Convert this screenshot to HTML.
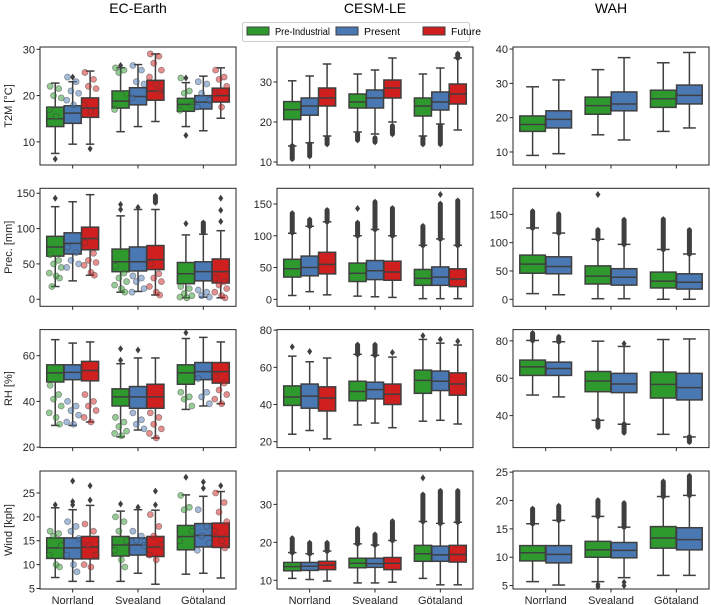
<!DOCTYPE html>
<html><head><meta charset="utf-8"><style>
body{margin:0;background:#fff;}
svg{display:block;font-family:"Liberation Sans","DejaVu Sans",sans-serif;}
</style></head><body>
<svg id="chart" width="711" height="605" viewBox="0 0 711 605" xmlns="http://www.w3.org/2000/svg">
<text x="138" y="13" font-size="14" text-anchor="middle">EC-Earth</text>
<text x="375" y="13" font-size="14" text-anchor="middle">CESM-LE</text>
<text x="611" y="13" font-size="14" text-anchor="middle">WAH</text>
<g>
<rect x="242.5" y="22.5" width="227" height="19" rx="2" fill="#fff" stroke="#ccc"/>
<g><rect x="247" y="27" width="22" height="8" fill="#2e9a2e" stroke="#3f3f3f"/><text x="275" y="35" font-size="10.5" textLength="55" lengthAdjust="spacingAndGlyphs">Pre-Industrial</text></g>
<g><rect x="336" y="27" width="22" height="8" fill="#4a78b3" stroke="#3f3f3f"/><text x="364" y="35" font-size="10.5" textLength="36" lengthAdjust="spacingAndGlyphs">Present</text></g>
<g><rect x="423" y="27" width="22" height="8" fill="#cf1f1f" stroke="#3f3f3f"/><text x="451" y="35" font-size="10.5" textLength="30" lengthAdjust="spacingAndGlyphs">Future</text></g>
</g>
</svg>
<script>
const categories = ["Norrland","Svealand","Götaland"];
const hueColors = ["#2e9a2e","#4a78b3","#cf1f1f"];
const rowLabels = ["T2M [°C]","Prec. [mm]","RH [%]","Wind [kph]"];
const colNames = ["ec-earth","cesm-le","wah"];
const rowNames = ["t2m","prec","rh","wind"];
const yDomains = [
 [[5,30.5],[9.25,38.75],[6.2,40.6]],
 [[-10,157],[-11,174.7],[-12.4,196]],
 [[19.8,71.4],[16.8,80.3],[22.9,86]],
 [[4.9,29.6],[7.7,38.8],[4.4,25.2]]
];
const yTicks = [
 [[10,20,30],[10,20,30],[10,20,30,40]],
 [[0,50,100,150],[0,50,100,150],[0,50,100,150]],
 [[20,40,60],[20,40,60,80],[40,60,80]],
 [[5,10,15,20,25],[10,20,30],[5,10,15,20,25]]
];
// each box: [whislo, q1, median, q3, whishi], sparse fliers, dense flier range, strip points
const t2m_ec = [
 [{s:[7.5,13.3,15,17.5,22.7],f:[6.3],r:null,p:[22,21.5,20,19.5,17,15.5]},{s:[9.5,14,16.2,17.8,23],f:[24],r:null,p:[24,23,21,20.5,19,18]},{s:[9.5,15.3,17.3,19.5,25.3],f:[8.5],r:null,p:[25,23.5,22,21.5,18,16.5]}],
 [{s:[12.2,17.3,18.8,21,26],f:[26.5],r:null,p:[26,25.5,25,20.5,17]},{s:[13.3,18,19.8,21.7,26.7],f:[],r:null,p:[26.5,25.5,23,22.5,19.5]},{s:[14.4,19,21,23.3,29],f:[],r:null,p:[29,28.5,27,25.5,24,22.5,21]}],
 [{s:[13.3,16.6,18.1,19.4,22.8],f:[11.4,23.8],r:null,p:[23.8,21,20.5,18,16.8]},{s:[12.4,17.1,18.6,20,24.2],f:[],r:null,p:[23,22.5,20.5,19,17.5]},{s:[15.1,18.6,20,21.6,26],f:[],r:null,p:[25.5,24,23.5,22,20.5,17.5]}]
];
const t2m_cesm = [
 [{s:[14,20.6,23.1,25.1,30.3],f:[],r:[10.8,14]},{s:[14.8,21.7,24,26,31.5],f:[],r:[11.5,14.5]},{s:[16.5,24,26,28.5,34.5],f:[],r:[14.5,16]}],
 [{s:[17.5,23.5,25,27,32],f:[],r:[15.5,17]},{s:[17,23.5,26,28,33],f:[],r:[15,16]},{s:[20,26,28.5,30.5,36],f:[],r:[17,19]}],
 [{s:[16.5,21.5,24,26,32],f:[],r:[14.5,16]},{s:[19.5,23,25,27.5,33.5],f:[],r:[14.5,19]},{s:[18,24.5,27,29.5,36],f:[],r:[36,37]}]
];
const t2m_wah = [
 [{s:[9,16,18,20.5,29],f:[],r:null},{s:[9.5,17,19.5,22,31],f:[],r:null}],
 [{s:[15,21,23.5,26,34],f:[],r:null},{s:[13.5,22,24,27.5,37.5],f:[],r:null}],
 [{s:[16,23,25.5,28,36],f:[],r:null},{s:[17,24,26.5,29.5,39],f:[],r:null}]
];
const prec_ec = [
 [{s:[18,61,74,89,131],f:[143],r:null,p:[63,55,50,45,37,33,30,18]},{s:[26,64,79,94,138],f:[],r:null,p:[74,66,55,50,45]},{s:[34,70,86,102,148],f:[],r:null,p:[80,65,55,52,48,38,34]}],
 [{s:[10,39,53,71,118],f:[127,134],r:null,p:[47,37,30,25,20,15,10]},{s:[11,40,53,74,127],f:[130],r:null,p:[33,30,25,15,10]},{s:[6,42,56,76,127],f:[],r:[137,146],p:[50,36,30,25,18,10,6]}],
 [{s:[2,22,36,52,91],f:[107],r:null,p:[18,15,8,5,3,2]},{s:[3,26,39,53,92],f:[],r:[95,108],p:[13,10,5,3]},{s:[2,23,39,57,97],f:[110,126,143],r:null,p:[30,25,20,15,10,5,2]}]
];
const prec_cesm = [
 [{s:[6,35,48,63,104],f:[],r:[105,135]},{s:[12,37,50,68,115],f:[],r:[115,125]},{s:[7,40,55,74,122],f:[],r:[122,140]}],
 [{s:[5,28,41,57,100],f:[143],r:[100,120]},{s:[4,31,45,61,110],f:[],r:[110,153]},{s:[3,30,43,60,100],f:[],r:[100,143]}],
 [{s:[1,22,33,47,85],f:[],r:[85,115]},{s:[1,22,35,51,95],f:[165],r:[95,150]},{s:[1,20,32,48,85],f:[],r:[85,155]}]
];
const prec_wah = [
 [{s:[10,46,62,78,126],f:[],r:[126,155]},{s:[8,45,58,75,117],f:[],r:[117,150]}],
 [{s:[1,27,41,59,106],f:[185],r:[106,122]},{s:[1,25,39,54,97],f:[],r:[97,140]}],
 [{s:[0,20,32,48,88],f:[],r:[88,141]},{s:[0,18,30,45,80],f:[],r:[80,122]}]
];
const rh_ec = [
 [{s:[29.5,48.5,52.5,56,67],f:[],r:null,p:[47,43,41,38,35,33,30]},{s:[29.5,49.5,52.7,56,65.5],f:[],r:null,p:[40,38,36,34,31,30]},{s:[31,49,53.5,57.5,66],f:[],r:null,p:[43,40,38,36,33,31]}],
 [{s:[24.5,38,42,45.5,56.5],f:[58,63],r:null,p:[33,31,29,27,26,25]},{s:[27.5,37,42,46.5,59],f:[62.5],r:null,p:[35,32,30,28]},{s:[24,37,42,47.5,59],f:[],r:null,p:[35,33,30,28,26,24]}],
 [{s:[36.5,47.5,52.5,56,67.5],f:[70],r:null,p:[44,42,41,38]},{s:[38,49.5,53,57,68],f:[],r:null,p:[50,44,42,39]},{s:[39,48,53,57,66],f:[],r:null,p:[51,48,45,43,41,39]}]
];
const rh_cesm = [
 [{s:[24,39.5,44,50,66],f:[71],r:null},{s:[26,38,44.5,51,63],f:[68.5],r:null},{s:[21.5,36.5,43.5,49.5,65],f:[],r:null}],
 [{s:[29,42,47,52.5,67],f:[],r:[67,72]},{s:[30,43,48,52,66.5],f:[],r:[66.5,72]},{s:[27.5,40,45.5,51,65.5],f:[68],r:null}],
 [{s:[31,46,53,58.5,75],f:[77],r:null},{s:[31.5,47.5,52.5,58,73],f:[75],r:null},{s:[29.5,45,51,57,72],f:[74],r:null}]
];
const rh_wah = [
 [{s:[51,61.5,66.1,69.7,80.2],f:[],r:[80.2,84]},{s:[50,61.5,65.2,68.6,79.5],f:[],r:[79.5,82]}],
 [{s:[37.5,52.8,58.5,63.6,79.8],f:[],r:[34,37.5]},{s:[35.4,52.3,56.9,62.6,77],f:[78.5],r:[31,35.4]}],
 [{s:[30,49.4,56.7,63.3,80.7],f:[],r:null},{s:[28.6,48.4,55,62.6,81],f:[],r:[26,28.6]}]
];
const wind_ec = [
 [{s:[7.3,11.3,13.5,15.6,21.9],f:[22.5],r:null,p:[17,16.5,16,14,12,10,9.5]},{s:[6.5,11.2,13.5,15.6,21.5],f:[22.5,23.2,27.5],r:null,p:[19,18,17,15.5,12,10,8.5]},{s:[6.5,11.2,13.7,15.9,22.4],f:[23.5,26.5],r:null,p:[18.5,17,14,12,10,9.5]}],
 [{s:[6.5,11.8,14.1,15.9,21.2],f:[22.7],r:null,p:[20,19,17,15,13,11,9.5]},{s:[8.2,12,14.1,15.6,21.5],f:[22],r:null,p:[17,16,15,14]},{s:[5.9,11.7,13.7,15.9,21.4],f:[22.5,25.4],r:null,p:[20.5,18,16,14,12,11]}],
 [{s:[8,13.1,15.9,18.2,24.6],f:[28.3],r:null,p:[24.5,22,21.5,17,15]},{s:[8.2,13.7,16.1,18.6,24.3],f:[26,27.3],r:null,p:[21.5,18,16,14.5,13]},{s:[7.2,13.6,15.9,18.7,25.3],f:[26.5],r:null,p:[25,23,21,19,17,15,13.5]}]
];
const wind_cesm = [
 [{s:[10.5,12.5,13.6,14.7,17.3],f:[],r:[17.3,21]},{s:[10.2,12.6,13.7,14.7,17],f:[],r:[17,19.8]},{s:[9.8,12.8,14,15,17.7],f:[],r:[17.7,19.8]}],
 [{s:[9.3,13.3,14.5,15.8,19.6],f:[],r:[19.6,23.5]},{s:[9.3,13.4,14.4,15.8,19.3],f:[],r:[19.3,22]},{s:[9.5,12.8,14.5,16,20.5],f:[],r:[20.5,25.5]}],
 [{s:[10.5,15,17,19.2,25.5],f:[37],r:[25.5,32.5]},{s:[8.8,15,16.7,19,25],f:[],r:[25,33.5]},{s:[8.8,14.8,16.8,19.2,25.3],f:[],r:[25.3,33.5]}]
];
const wind_wah = [
 [{s:[5.7,9.35,10.8,12.05,15.9],f:[],r:[15.9,18.5]},{s:[5.1,9,10.5,12.05,16.5],f:[],r:[16.5,19]}],
 [{s:[5.7,10,11.3,12.8,17.2],f:[4.8,5.2],r:[17.2,20]},{s:[6.4,9.9,11.2,12.6,15.3],f:[5,5.6],r:[15.3,19.5]}],
 [{s:[6.8,11.6,13.4,15.4,20.7],f:[],r:[20.7,23.3]},{s:[6.8,11.3,13.1,15.2,20.9],f:[],r:[20.9,24.3]}]
];
const panelData = [
 [t2m_ec,t2m_cesm,t2m_wah],
 [prec_ec,prec_cesm,prec_wah],
 [rh_ec,rh_cesm,rh_wah],
 [wind_ec,wind_cesm,wind_wah]
];

const NS="http://www.w3.org/2000/svg";
const svg=document.getElementById('chart');
const lefts=[40,277,513], W=196, tops=[47,188.3,329.6,471], H=118;
const EDGE="#3f3f3f";
const jit=[-0.3,0.2,-0.1,0.35,-0.35,0.05,0.25,-0.2];
function mk(tag,attrs,parent){const e=document.createElementNS(NS,tag);for(const k in attrs)e.setAttribute(k,attrs[k]);(parent||svg).appendChild(e);return e;}
function diamond(g,x,y){return mk('path',{d:`M${x} ${y-3.5}L${x+2.5} ${y}L${x} ${y+3.5}L${x-2.5} ${y}Z`,fill:EDGE},g);}

for(let r=0;r<4;r++){for(let c=0;c<3;c++){
 const L=lefts[c],T=tops[r],dom=yDomains[r][c];
 const yS=v=>T+H-(v-dom[0])/(dom[1]-dom[0])*H;
 const step=W/categories.length;
 const xS=i=>L+step*(i+0.5);
 const g=mk('g',{});
 
 
 const data=panelData[r][c];
 data.forEach((cat,ci)=>{
  const nh=cat.length, gw=step*0.8, bw=gw/nh;
  cat.forEach((b,hi)=>{
   const cx=xS(ci)-gw/2+bw*(hi+0.5), w=bw*0.98;
   const bg=mk('g',{},g);
   
   
   const s=b.s;
   mk('line',{x1:cx,x2:cx,y1:yS(s[0]),y2:yS(s[1]),stroke:EDGE,'stroke-width':1.5},bg);
   mk('line',{x1:cx,x2:cx,y1:yS(s[3]),y2:yS(s[4]),stroke:EDGE,'stroke-width':1.5},bg);
   mk('line',{x1:cx-w/4,x2:cx+w/4,y1:yS(s[0]),y2:yS(s[0]),stroke:EDGE,'stroke-width':1.5},bg);
   mk('line',{x1:cx-w/4,x2:cx+w/4,y1:yS(s[4]),y2:yS(s[4]),stroke:EDGE,'stroke-width':1.5},bg);
   mk('rect',{x:cx-w/2,y:yS(s[3]),width:w,height:yS(s[1])-yS(s[3]),fill:hueColors[hi],stroke:EDGE,'stroke-width':1.5},bg);
   mk('line',{x1:cx-w/2,x2:cx+w/2,y1:yS(s[2]),y2:yS(s[2]),stroke:EDGE,'stroke-width':1.5},bg);
   if(b.r){
     mk('line',{x1:cx,x2:cx,y1:yS(b.r[0]),y2:yS(b.r[1]),stroke:EDGE,'stroke-width':5,'stroke-linecap':'round'},bg);
     diamond(bg,cx,yS(b.r[0]));diamond(bg,cx,yS(b.r[1]));
   }
   b.f.forEach(v=>diamond(bg,cx,yS(v)));
   (b.p||[]).forEach((v,k)=>{
     const pt=mk('circle',{cx:cx+jit[k%jit.length]*w,cy:yS(v),r:3,fill:hueColors[hi],'fill-opacity':0.5,stroke:EDGE,'stroke-opacity':0.5,'stroke-width':0.8},bg);
     
     
   });
  });
 });
 const fr=mk('rect',{x:L,y:T,width:W,height:H,fill:'none',stroke:'#262626','stroke-width':1},g);
 
 
 yTicks[r][c].forEach(t=>{
  const y=yS(t);
  mk('line',{x1:L-3.5,x2:L,y1:y,y2:y,stroke:'#262626'},g);
  const tx=mk('text',{x:L-5,y:y+4,'font-size':11,'text-anchor':'end',fill:'#262626'},g);
  tx.textContent=t;
  
  
 });
 categories.forEach((cn,ci)=>{
  mk('line',{x1:xS(ci),x2:xS(ci),y1:T+H,y2:T+H+3.5,stroke:'#262626'},g);
  if(r===3){
   const tx=mk('text',{x:xS(ci),y:T+H+15,'font-size':11,'text-anchor':'middle',fill:'#262626'},g);
   tx.textContent=cn;
   
   
  }
 });
 if(c===0){
  const yl=mk('text',{x:0,y:0,'font-size':11,'text-anchor':'middle',transform:`translate(12,${T+H/2}) rotate(-90)`,fill:'#262626'},g);
  yl.textContent=rowLabels[r];
  
  
 }
}}
</script>
</body></html>
